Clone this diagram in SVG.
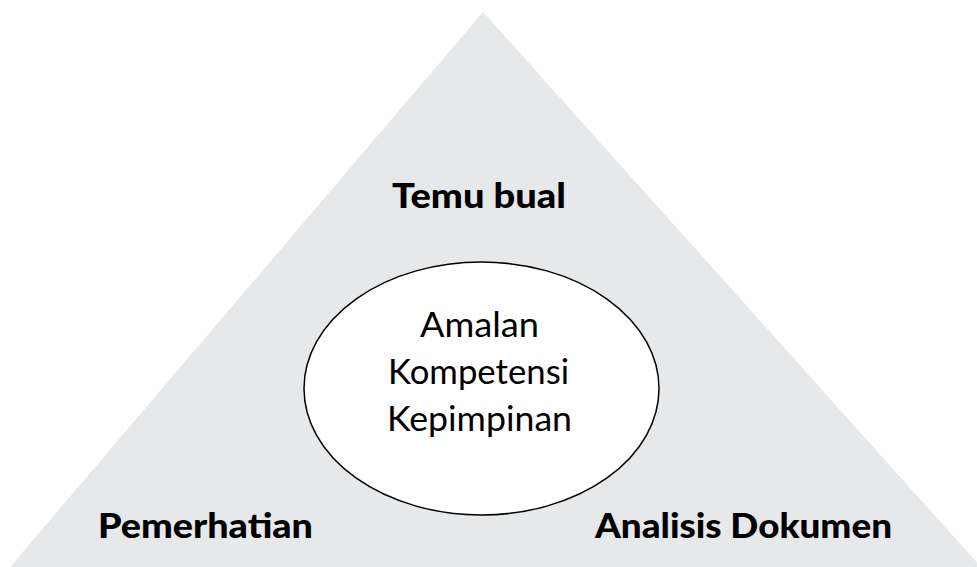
<svg xmlns="http://www.w3.org/2000/svg" width="977" height="567" viewBox="0 0 977 567">
  <style>
    .bold { font-family: Lato, "Noto Sans", "Liberation Sans", sans-serif; font-weight: 900; font-size: 34px; fill: #000; }
    .core { font-family: Lato, "Noto Sans", "Liberation Sans", sans-serif; font-weight: 400; font-size: 34px; fill: #000; }
  </style>
  <rect width="977" height="567" fill="#ffffff"/>
  <g id="triangle">
    <polygon points="483,12 10,567 981,567" fill="#e7e8e9"/>
  </g>
  <g id="center">
    <ellipse cx="481.5" cy="388.5" rx="177.5" ry="126.5" fill="#ffffff" stroke="#000" stroke-width="1.5"/>
    <text class="core" x="420" y="337" textLength="119" lengthAdjust="spacingAndGlyphs">Amalan</text>
    <text class="core" x="388" y="384" textLength="181" lengthAdjust="spacingAndGlyphs">Kompetensi</text>
    <text class="core" x="387" y="431" textLength="185" lengthAdjust="spacingAndGlyphs">Kepimpinan</text>
  </g>
  <g id="temu-bual">
    <text class="bold" x="392" y="208" textLength="174" lengthAdjust="spacingAndGlyphs">Temu bual</text>
  </g>
  <g id="pemerhatian">
    <text class="bold" x="98" y="538" textLength="215" lengthAdjust="spacingAndGlyphs">Pemerhatian</text>
  </g>
  <g id="analisis-dokumen">
    <text class="bold" x="595" y="538" textLength="297" lengthAdjust="spacingAndGlyphs">Analisis Dokumen</text>
  </g>
</svg>
